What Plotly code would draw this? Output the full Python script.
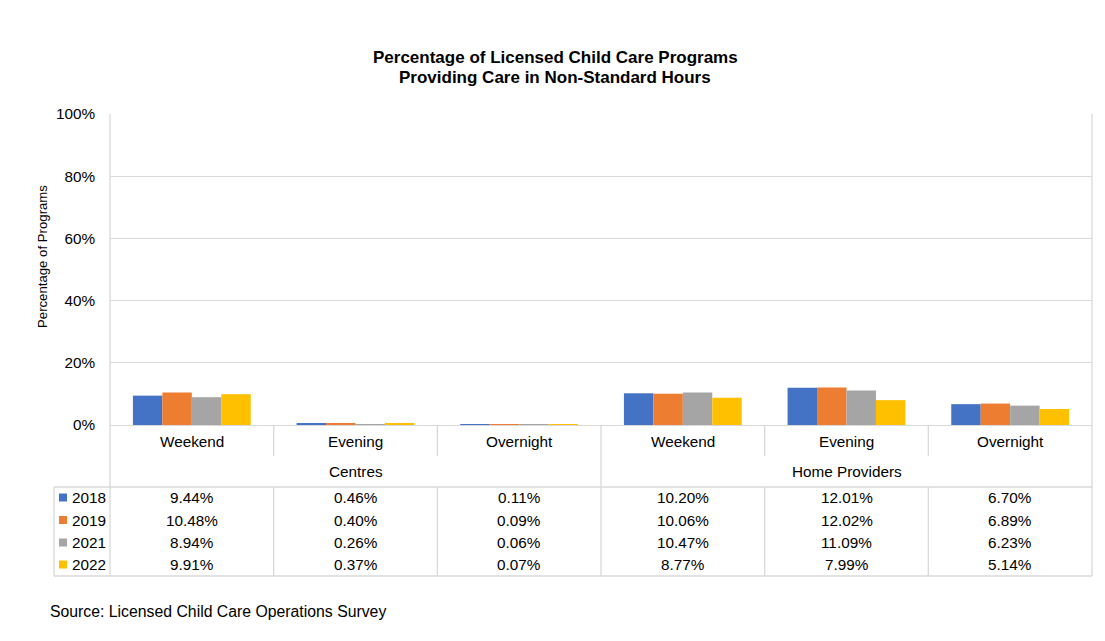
import plotly.graph_objects as go

categories = ["Weekend", "Evening", "Overnight", "Weekend", "Evening", "Overnight"]
groups = ["Centres", "Home Providers"]
years = ["2018", "2019", "2021", "2022"]
v2018 = [9.44, 0.46, 0.11, 10.20, 12.01, 6.70]
v2019 = [10.48, 0.40, 0.09, 10.06, 12.02, 6.89]
v2021 = [8.94, 0.26, 0.06, 10.47, 11.09, 6.23]
v2022 = [9.91, 0.37, 0.07, 8.77, 7.99, 5.14]
series = [v2018, v2019, v2021, v2022]
colors = ["#4472C4", "#ED7D31", "#A5A5A5", "#FFC000"]
ytickvals = [0, 20, 40, 60, 80, 100]
yticktext = ["0%", "20%", "40%", "60%", "80%", "100%"]

OFF = 8  # browser body margin
W, H = 1105 - OFF, 641 - OFF
L, R, T, B = 110, 1092, 114, 425
FONT = "Liberation Sans, Arial, sans-serif"
GRID = "#D9D9D9"
TS = 15.3


def px(x):
    return (x - L) / (R - L)


def py(y):
    return (B - y) / (B - T)


fig = go.Figure()
xs = list(range(len(categories)))
for name, vals, col in zip(years, series, colors):
    fig.add_trace(go.Bar(x=xs, y=vals, name=name, marker=dict(color=col, line=dict(width=0)),
                         showlegend=False, hoverinfo="y+name"))

shapes = []
annotations = []


def hline(x0, x1, y, color=GRID, w=1.3):
    shapes.append(dict(type="line", xref="paper", yref="paper", x0=px(x0), x1=px(x1),
                       y0=py(y), y1=py(y), line=dict(color=color, width=w), layer="above"))


def vline(x, y0, y1, color=GRID, w=1.3):
    shapes.append(dict(type="line", xref="paper", yref="paper", x0=px(x), x1=px(x),
                       y0=py(y0), y1=py(y1), line=dict(color=color, width=w), layer="above"))


def text(t, x, y, size=TS, xanchor="center", bold=False, angle=0, color="#000000"):
    annotations.append(dict(text=("<b>%s</b>" % t) if bold else t, xref="paper", yref="paper",
                            x=px(x), y=py(y), xanchor=xanchor, yanchor="middle", showarrow=False,
                            textangle=angle, font=dict(family=FONT, size=size, color=color)))


# outer chart border
shapes.append(dict(type="rect", xref="paper", yref="paper", x0=px(7), x1=px(1120), y0=py(5), y1=py(660),
                   line=dict(color=GRID, width=1.3), layer="below"))

ncat = len(categories)
colw = (R - L) / ncat
# plot area left/right and table lines
vline(L, T, 576)
vline(R, T, 576)
hline(L, R, 487)
hline(54, L, 487)
hline(54, R, 576)
vline(54, 487, 576)
for i in range(1, ncat):
    xb = L + colw * i
    if i == 3:
        vline(xb, B, 576)
    else:
        vline(xb, B, 456)
        vline(xb, 487, 576)

# category labels
for i, c in enumerate(categories):
    text(c, L + colw * (i + 0.5), 441)
# group labels
for gi, g in enumerate(groups):
    text(g, L + colw * (gi * 3 + 1.5), 471)

# table rows
row_y = [497.5, 520, 542.5, 564.5]
for name, vals, col, ry in zip(years, series, colors, row_y):
    shapes.append(dict(type="rect", xref="paper", yref="paper", x0=px(59), x1=px(67),
                       y0=py(ry - 4), y1=py(ry + 4), fillcolor=col, line=dict(width=0), layer="above"))
    text(name, 69.5, ry, xanchor="left")
    for i, v in enumerate(vals):
        text("%.2f%%" % v, L + colw * (i + 0.5), ry)

# title and axis title
text("Percentage of Licensed Child Care Programs", 555, 57, size=17, bold=True)
text("Providing Care in Non-Standard Hours", 555, 77, size=17, bold=True)
text("Percentage of Programs", 42, 257, size=13.2, angle=-90)
text("Source: Licensed Child Care Operations Survey", 48, 611, size=15.8, xanchor="left")

fig.update_layout(
    width=W, height=H,
    margin=dict(l=L - OFF, r=W - (R - OFF), t=T - OFF, b=H - (B - OFF)),
    paper_bgcolor="white", plot_bgcolor="white",
    barmode="group", bargap=0.28, bargroupgap=0,
    shapes=shapes, annotations=annotations,
    font=dict(family=FONT, size=TS, color="#000000"),
    xaxis=dict(range=[-0.5, ncat - 0.5], showticklabels=False, showgrid=False, zeroline=False,
               showline=False, ticks="", fixedrange=True),
    yaxis=dict(range=[0, 100], tickvals=ytickvals, ticktext=yticktext, showgrid=True, gridcolor=GRID,
               gridwidth=1.3, zeroline=True, zerolinecolor=GRID, zerolinewidth=1.3, showline=False,
               ticks="", ticklabelstandoff=14, tickfont=dict(family=FONT, size=TS, color="#000000")),
)

fig.write_html("out.html")
